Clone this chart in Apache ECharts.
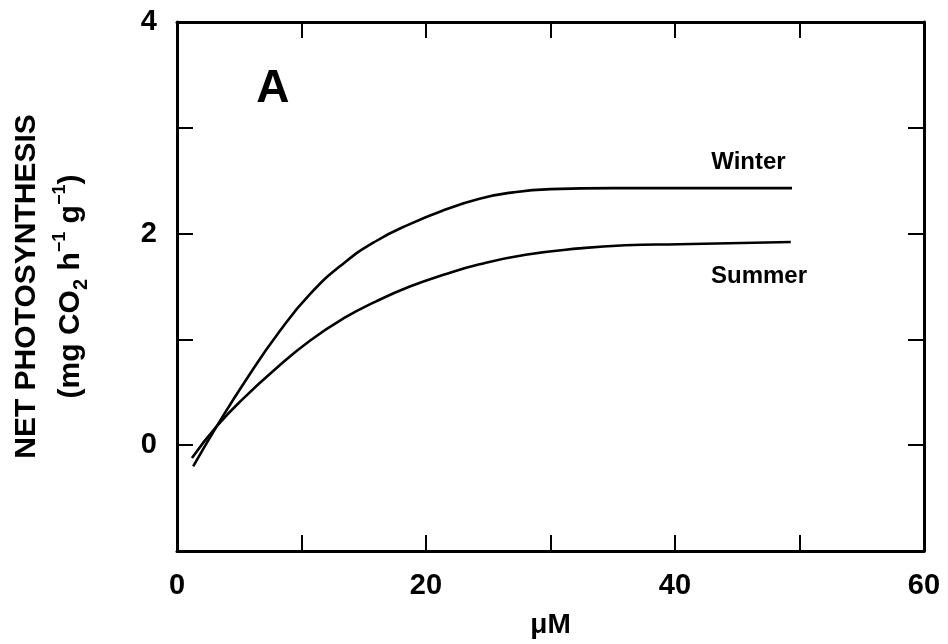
<!DOCTYPE html>
<html>
<head>
<meta charset="utf-8">
<script src="https://cdn.jsdelivr.net/npm/echarts@6/dist/echarts.min.js"></script>
<style>
  html, body { margin: 0; background: #fff; }
  #main { width: 948px; height: 644px; }
</style>
</head>
<body>
<div id="main"></div>
<script>
// curves (x in µM, y in mg CO2 h-1 g-1)
const winterX = [1.3, 3.2, 5.5, 8.2, 10.7, 13.4, 16.0, 18.7, 21.4, 24.3, 27.0, 30.0, 35.0, 42.0, 49.4]
const winterY = [-0.2, 0.18, 0.61, 1.07, 1.43, 1.72, 1.93, 2.09, 2.22, 2.33, 2.39, 2.42, 2.43, 2.43, 2.43]
const summerX = [1.2, 3.2, 5.4, 8.0, 10.7, 13.4, 16.0, 18.7, 21.4, 24.3, 28.0, 32.3, 36.0, 40.3, 49.3]
const summerY = [-0.12, 0.18, 0.45, 0.73, 0.99, 1.2, 1.36, 1.5, 1.61, 1.71, 1.8, 1.86, 1.89, 1.9, 1.92]
const xLabels = [0, 20, 40, 60]
const yLabels = [0, 2, 4]

const FONT = '"Liberation Sans", Arial, sans-serif'
const zip = (xs, ys) => xs.map((x, i) => [x, ys[i]])

var myChart = echarts.init(document.getElementById('main'))

const lineStyle = { color: '#000', width: 2.6 }
const axisCommon = {
  type: 'value',
  axisLine: { show: true, onZero: false, lineStyle: { color: '#000', width: 3 } },
  axisTick: { show: true, inside: true, length: 16, lineStyle: { color: '#000', width: 2 } },
  splitLine: { show: false },
}

var option = {
  backgroundColor: '#fff',
  animation: false,
  grid: { left: 177, right: 24, top: 22, bottom: 93 },
  xAxis: [
    {
      ...axisCommon,
      position: 'bottom',
      min: 0,
      max: 60,
      interval: 10,
      axisLabel: {
        margin: 20,
        fontFamily: FONT,
        fontSize: 29,
        fontWeight: 'bold',
        color: '#000',
        formatter: (v) => (xLabels.includes(v) ? String(v) : ''),
      },
      name: 'μM',
      nameLocation: 'middle',
      nameGap: 60,
      nameTextStyle: { fontFamily: FONT, fontSize: 28, fontWeight: 'bold', color: '#000' },
    },
    {
      ...axisCommon,
      position: 'top',
      min: 0,
      max: 60,
      interval: 10,
      axisLabel: { show: false },
    },
  ],
  yAxis: [
    {
      ...axisCommon,
      position: 'left',
      min: -1,
      max: 4,
      interval: 1,
      axisLabel: {
        margin: 20,
        fontFamily: FONT,
        fontSize: 29,
        fontWeight: 'bold',
        color: '#000',
        formatter: (v) => (yLabels.includes(v) ? String(v) : ''),
      },
      name: '{t|NET PHOTOSYNTHESIS}\n{u|(mg CO}{sub|2}{u| h}{sup|−1}{u| g}{sup|−1}{u|)}',
      nameLocation: 'middle',
      nameRotate: 90,
      nameGap: 86,
      nameTextStyle: {
        fontFamily: FONT,
        fontWeight: 'bold',
        color: '#000',
        rich: {
          t: { fontFamily: FONT, fontSize: 30, fontWeight: 'bold', color: '#000', lineHeight: 48 },
          u: { fontFamily: FONT, fontSize: 30, fontWeight: 'bold', color: '#000', lineHeight: 40 },
          sub: { fontFamily: FONT, fontSize: 20, fontWeight: 'bold', color: '#000', lineHeight: 17, verticalAlign: 'bottom' },
          sup: { fontFamily: FONT, fontSize: 18, fontWeight: 'bold', color: '#000', lineHeight: 28, verticalAlign: 'top' },
        },
      },
    },
    {
      ...axisCommon,
      position: 'right',
      min: -1,
      max: 4,
      interval: 1,
      axisLabel: { show: false },
    },
  ],
  series: [
    {
      name: 'Winter',
      type: 'line',
      data: zip(winterX, winterY),
      smooth: 0.5,
      symbol: 'none',
      lineStyle: lineStyle,
    },
    {
      name: 'Summer',
      type: 'line',
      data: zip(summerX, summerY),
      smooth: 0.5,
      symbol: 'none',
      lineStyle: lineStyle,
    },
  ],
}

myChart.setOption(option)

// text annotations placed in data coordinates
const notes = [
  { text: 'A', at: [7.7, 3.36], size: 46 },
  { text: 'Winter', at: [45.9, 2.67], size: 24 },
  { text: 'Summer', at: [46.75, 1.6], size: 24 },
]
myChart.setOption({
  graphic: notes.map((n) => {
    const p = myChart.convertToPixel({ xAxisIndex: 0, yAxisIndex: 0 }, n.at)
    return {
      type: 'text',
      x: p[0],
      y: p[1],
      style: {
        text: n.text,
        fontFamily: FONT,
        fontSize: n.size,
        fontWeight: 'bold',
        fill: '#000',
        align: 'center',
        verticalAlign: 'middle',
      },
    }
  }),
})
</script>
</body>
</html>
